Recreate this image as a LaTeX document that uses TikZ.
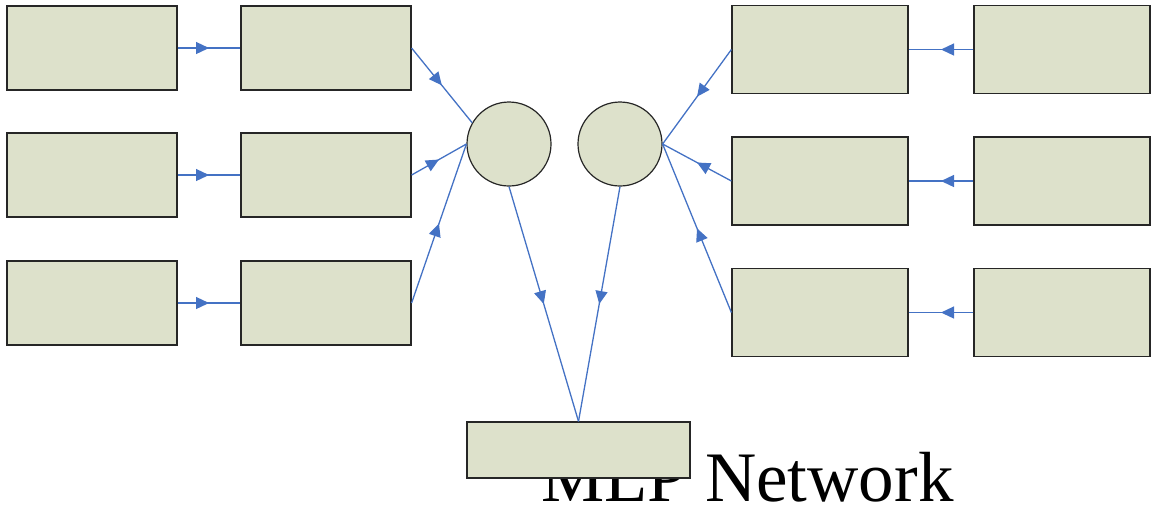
\documentclass[tikz,border=0pt]{standalone}
\usepackage{fontspec}
\setmainfont{Liberation Serif}
\usetikzlibrary{arrows.meta,decorations.markings}
\definecolor{boxfill}{HTML}{DDE1CB}
\definecolor{linkblue}{HTML}{4472C4}
\tikzset{
  cell/.style={draw=black!85, line width=0.6pt, fill=boxfill, inner sep=0pt},
  inbox/.style={cell, minimum width=85pt, minimum height=42pt},
  outbox/.style={cell, minimum width=88pt, minimum height=44pt},
  neuron/.style={cell, circle, minimum size=42pt},
  link/.style={linkblue, line width=0.65pt,
    postaction={decorate, decoration={markings,
      mark=at position 0.5 with {\arrow{Triangle[length=6.5pt,width=6pt]}}}}}
}
\begin{document}
\begin{tikzpicture}[x=0.5pt, y=-0.5pt]
\useasboundingbox (0,0) rectangle (1151,511);

% caption, partly hidden by the output box drawn after it
\node[anchor=base west, inner sep=0pt, font=\fontsize{35.5}{40}\selectfont] (title) at (541,501) {MLP Network};

% output box
\node[cell, minimum width=111.5pt, minimum height=28pt] (out) at (578.5,450) {};

% left input chain
\node[inbox] (a1) at (92,48) {};
\node[inbox] (a2) at (92,175) {};
\node[inbox] (a3) at (92,303) {};
\node[inbox] (b1) at (326,48) {};
\node[inbox] (b2) at (326,175) {};
\node[inbox] (b3) at (326,303) {};

% right input chain
\node[outbox] (d1) at (1062,49.5) {};
\node[outbox] (d2) at (1062,181) {};
\node[outbox] (d3) at (1062,312.5) {};
\node[outbox] (c1) at (820,49.5) {};
\node[outbox] (c2) at (820,181) {};
\node[outbox] (c3) at (820,312.5) {};

% hidden units
\node[neuron] (hl) at (509,144) {};
\node[neuron] (hr) at (620,144) {};

% left connections
\draw[link] (a1.east) -- (b1.west);
\draw[link] (a2.east) -- (b2.west);
\draw[link] (a3.east) -- (b3.west);
\draw[link] (b1.east) -- (hl.150);
\draw[link] (b2.east) -- (hl.west);
\draw[link] (b3.east) -- (hl.west);

% right connections
\draw[link] (d1.west) -- (c1.east);
\draw[link] (d2.west) -- (c2.east);
\draw[link] (d3.west) -- (c3.east);
\draw[link] (c1.west) -- (hr.east);
\draw[link] (c2.west) -- (hr.east);
\draw[link] (c3.west) -- (hr.east);

% hidden to output
\draw[link] (hl.south) -- (out.north);
\draw[link] (hr.south) -- (out.north);
\end{tikzpicture}
\end{document}
